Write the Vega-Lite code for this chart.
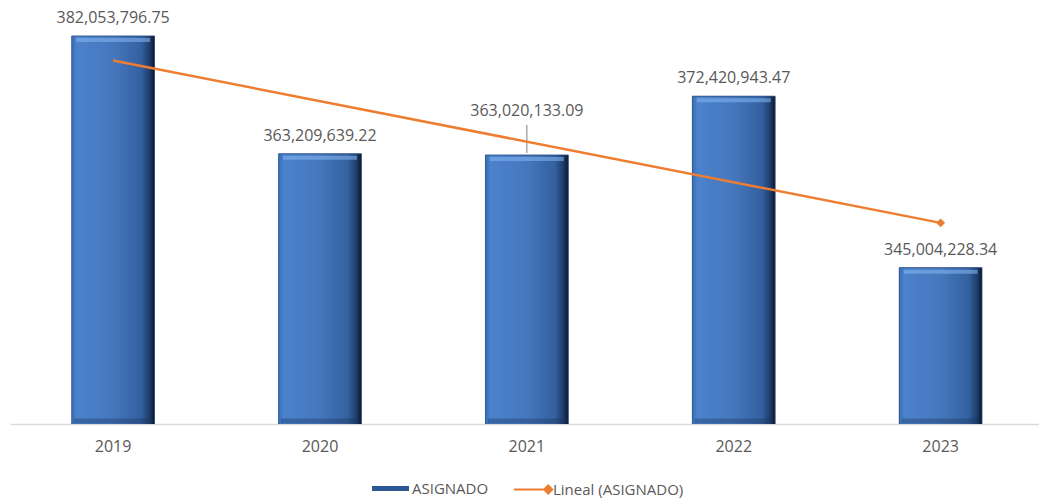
{
  "$schema": "https://vega.github.io/schema/vega-lite/v6.json",
  "width": 1029,
  "height": 424,
  "autosize": {"type": "none"},
  "padding": {"left": 10, "top": 0, "right": 0, "bottom": 77},
  "background": "white",
  "config": {"view": {"stroke": null}, "font": "Open Sans"},
  "data": {
    "values": [
      {"year": 2019, "value": 382053796.75},
      {"year": 2020, "value": 363209639.22},
      {"year": 2021, "value": 363020133.09},
      {"year": 2022, "value": 372420943.47},
      {"year": 2023, "value": 345004228.34}
    ]
  },
  "encoding": {
    "x": {
      "field": "year",
      "type": "ordinal",
      "scale": {"paddingInner": 0.6, "paddingOuter": 0.287, "align": 0.52},
      "axis": {
        "title": null,
        "labelAngle": 0,
        "labelFontSize": 16,
        "labelColor": "#595959",
        "labelPadding": 14,
        "ticks": false,
        "domainColor": "#d9d9d9",
        "domainWidth": 1.5
      }
    },
    "y": {
      "field": "value",
      "type": "quantitative",
      "scale": {"domain": [320000000, 387800000], "nice": false, "zero": false},
      "axis": null
    }
  },
  "layer": [
    {
      "mark": {"type": "bar", "clip": true},
      "encoding": {
        "fill": {
          "datum": "ASIGNADO",
          "scale": {"range": ["#2b5797"]},
          "legend": {
            "title": null,
            "orient": "none",
            "legendX": 362,
            "legendY": 470,
            "symbolType": "M-1,-0.14H1V0.14H-1Z",
            "symbolSize": 1369,
            "symbolStrokeWidth": 0,
            "labelFontSize": 15,
            "labelColor": "#595959",
            "labelOffset": 3
          }
        }
      }
    },
    {
      "mark": {
        "type": "bar",
        "clip": true,
        "stroke": "#2a4f85",
        "strokeWidth": 0.8,
        "fill": {
          "gradient": "linear",
          "x1": 0, "y1": 0, "x2": 1, "y2": 0,
          "stops": [
            {"offset": 0, "color": "#3a6db5"},
            {"offset": 0.06, "color": "#4a82cc"},
            {"offset": 0.5, "color": "#4677bd"},
            {"offset": 0.84, "color": "#33609f"},
            {"offset": 0.94, "color": "#1f3d6b"},
            {"offset": 1, "color": "#0a1628"}
          ]
        }
      }
    },
    {
      "mark": {"type": "tick", "size": 74, "thickness": 4, "yOffset": 4, "color": "#80b2ec", "opacity": 0.6}
    },
    {
      "mark": {"type": "tick", "size": 78, "thickness": 5, "yOffset": -3, "color": "#1a3358", "opacity": 0.35},
      "encoding": {"y": {"datum": 320000000}}
    },
    {
      "transform": [{"filter": "datum.year != 2021"}],
      "mark": {"type": "text", "dy": -13, "baseline": "alphabetic", "fontSize": 16, "color": "#595959"},
      "encoding": {"text": {"field": "value", "type": "quantitative", "format": ",.2f"}}
    },
    {
      "transform": [{"filter": "datum.year == 2021"}],
      "mark": {"type": "text", "dy": -39, "baseline": "alphabetic", "fontSize": 16, "color": "#595959"},
      "encoding": {"text": {"field": "value", "type": "quantitative", "format": ",.2f"}}
    },
    {
      "transform": [{"filter": "datum.year == 2021"}],
      "mark": {"type": "rule", "yOffset": -2, "y2Offset": -30, "color": "#7f7f7f", "strokeWidth": 1},
      "encoding": {"y2": {"field": "value"}}
    },
    {
      "transform": [{"regression": "value", "on": "year"}],
      "mark": {"type": "line", "strokeWidth": 2.5},
      "encoding": {
        "stroke": {
          "datum": "Lineal (ASIGNADO)",
          "scale": {"range": ["#ed7d31"]},
          "legend": {
            "title": null,
            "orient": "none",
            "legendX": 503,
            "legendY": 470,
            "symbolType": "M-1,0H0.85M0.85,-0.22L1.07,0L0.85,0.22L0.63,0Z",
            "symbolSize": 1369,
            "symbolStrokeWidth": 2,
            "symbolFillColor": "#ed7d31",
            "labelFontSize": 15,
            "labelColor": "#595959",
            "labelOffset": 1
          }
        }
      }
    },
    {
      "transform": [{"regression": "value", "on": "year"}, {"filter": "datum.year == 2023"}],
      "mark": {"type": "point", "shape": "diamond", "filled": true, "size": 80, "color": "#ed7d31", "opacity": 1}
    }
  ]
}
